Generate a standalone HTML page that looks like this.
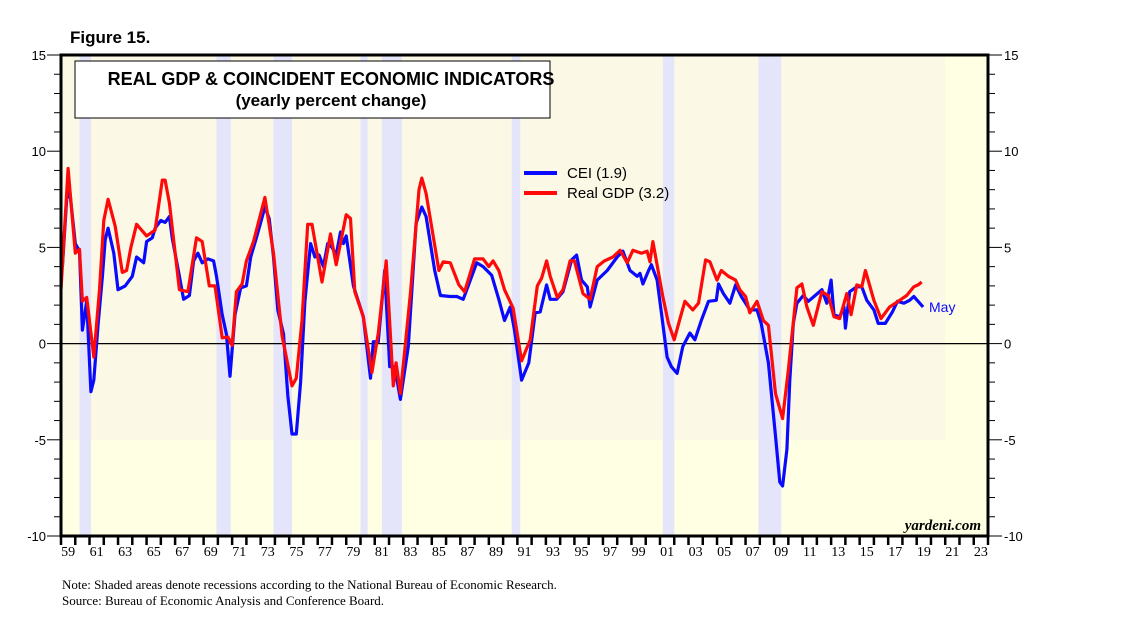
<!DOCTYPE html>
<html><head><meta charset="utf-8"><style>
body{margin:0;background:#fff;}
svg{display:block;font-family:"Liberation Sans",sans-serif;}
</style></head><body>
<svg id="chart" width="1138" height="635" viewBox="0 0 1138 635" xmlns="http://www.w3.org/2000/svg">
<text x="70" y="43" font-size="17" font-weight="bold">Figure 15.</text>
<g id="plot"></g>
<text x="62" y="589" font-family="Liberation Serif,serif" font-size="13">Note: Shaded areas denote recessions according to the National Bureau of Economic Research.</text>
<text x="62" y="605" font-family="Liberation Serif,serif" font-size="13">Source: Bureau of Economic Analysis and Conference Board.</text>
</svg>
<script>
const recessions=[[1960.3,1961.1],[1969.9,1970.9],[1973.9,1975.2],[1980.0,1980.5],[1981.5,1982.9],[1990.6,1991.2],[2001.2,2002.0],[2007.9,2009.5]];
const gdpYears=[1959,1959.5,1960,1960.3,1960.5,1960.8,1961.3,1961.7,1962,1962.3,1962.8,1963.3,1963.6,1963.9,1964.3,1965,1965.6,1966.1,1966.3,1966.6,1967.3,1967.9,1968.5,1968.9,1969.4,1969.8,1970.3,1970.7,1971,1971.3,1971.7,1972,1972.5,1973.3,1973.9,1974.5,1974.8,1975.2,1975.5,1975.9,1976.3,1976.6,1977.3,1977.9,1978.3,1979,1979.3,1979.6,1980.2,1980.8,1981.25,1981.8,1982.3,1982.5,1982.8,1983.5,1984.1,1984.3,1984.6,1985.5,1985.8,1986.3,1986.9,1987.3,1988,1988.6,1989,1989.3,1989.7,1990.1,1990.7,1991.3,1991.9,1992.4,1992.7,1993.05,1993.3,1993.8,1994.2,1994.7,1995,1995.6,1996.1,1996.6,1997.1,1997.7,1998.2,1998.7,1999.1,1999.7,2000.1,2000.3,2000.5,2000.9,2001.2,2001.6,2002,2002.4,2002.75,2003.3,2003.7,2004.2,2004.5,2005,2005.3,2005.8,2006.3,2006.6,2007,2007.3,2007.8,2008.25,2008.6,2009.1,2009.6,2010,2010.6,2010.95,2011.3,2011.75,2012.35,2012.8,2013.2,2013.6,2014.1,2014.4,2014.8,2015.15,2015.4,2016,2016.5,2017.1,2017.7,2018.3,2018.8,2019.1,2019.35];
const gdpValues=[2.8,9.1,4.7,4.9,2.2,2.4,-0.7,2.8,6.4,7.5,6.1,3.7,3.8,5.0,6.2,5.6,5.9,8.5,8.5,7.3,2.8,2.7,5.5,5.3,3.0,3.0,0.3,0.35,-0.1,2.7,3.1,4.3,5.3,7.6,4.7,0.4,-0.7,-2.2,-1.8,1.2,6.2,6.2,3.2,5.7,4.1,6.7,6.5,2.7,1.4,-1.5,0.55,4.3,-2.2,-1.0,-2.6,2.6,8.0,8.6,7.8,3.8,4.25,4.2,3.05,2.7,4.4,4.4,4.0,4.3,3.8,2.8,1.85,-0.9,0.2,3.0,3.4,4.3,3.5,2.4,2.8,4.3,4.3,2.6,2.3,4.0,4.3,4.5,4.85,4.2,4.85,4.7,4.8,4.25,5.3,3.65,2.45,1.05,0.2,1.3,2.2,1.75,2.1,4.35,4.25,3.3,3.8,3.5,3.3,2.8,2.45,1.6,2.2,1.2,0.95,-2.6,-3.9,-1.4,2.9,3.1,1.9,0.95,2.7,2.5,1.4,1.3,2.6,1.5,3.05,2.95,3.8,2.25,1.3,1.9,2.2,2.5,2.95,3.05,3.2];
const ceiYears=[1959.1,1959.4,1959.6,1960,1960.3,1960.5,1960.8,1961.1,1961.3,1961.6,1961.9,1962.1,1962.3,1962.7,1963,1963.5,1964,1964.3,1964.8,1965,1965.4,1965.6,1966,1966.3,1966.6,1966.8,1967.3,1967.6,1968,1968.3,1968.6,1968.9,1969.3,1969.7,1969.9,1970.3,1970.6,1970.85,1971.2,1971.6,1972,1972.3,1972.7,1973,1973.3,1973.6,1973.9,1974.2,1974.6,1974.9,1975.2,1975.5,1975.8,1976.1,1976.5,1976.8,1977.1,1977.4,1977.7,1978,1978.3,1978.6,1978.8,1979,1979.5,1980.2,1980.7,1980.9,1981.25,1981.7,1982.05,1982.4,1982.8,1983.35,1983.9,1984.3,1984.6,1985.2,1985.6,1986.3,1986.75,1987.2,1987.6,1988.15,1988.6,1989.2,1989.7,1990.1,1990.5,1990.8,1991.3,1991.8,1992.25,1992.6,1993.05,1993.3,1993.75,1994.2,1994.8,1995.15,1995.5,1995.9,1996.1,1996.6,1997.3,1998,1998.4,1998.9,1999.4,1999.6,1999.8,2000.2,2000.4,2000.8,2001.1,2001.5,2001.8,2002.2,2002.6,2003.1,2003.45,2003.9,2004.4,2004.95,2005.1,2005.45,2005.9,2006.3,2006.7,2007.3,2007.8,2008.1,2008.6,2009.1,2009.4,2009.6,2009.9,2010.1,2010.35,2010.6,2011.05,2011.4,2011.8,2012.35,2012.7,2013,2013.2,2013.6,2013.9,2014.0,2014.3,2014.8,2015.15,2015.5,2016,2016.3,2016.8,2017.3,2017.65,2018.1,2018.5,2018.8,2019.1,2019.45];
const ceiValues=[4.0,7.5,8.0,5.2,4.8,0.7,2.2,-2.5,-1.9,1.0,3.5,5.4,6.0,4.7,2.8,3.0,3.5,4.5,4.2,5.3,5.5,6.0,6.4,6.3,6.6,5.5,3.5,2.3,2.5,4.3,4.7,4.2,4.4,4.3,3.5,1.5,0.5,-1.7,1.5,2.9,3.0,4.5,5.5,6.3,7.1,6.5,4.5,1.75,0.5,-2.7,-4.7,-4.7,-2.0,2.2,5.2,4.5,4.6,4.0,5.2,5.0,4.6,5.8,5.2,5.6,3.0,1.4,-1.8,0.1,0.1,3.8,-1.2,-1.2,-2.9,-0.15,6.25,7.1,6.6,3.8,2.5,2.45,2.45,2.3,3.1,4.2,4.0,3.55,2.3,1.2,1.9,0.7,-1.9,-1.0,1.6,1.65,3.05,2.3,2.3,2.7,4.35,4.6,3.3,2.95,1.9,3.3,3.8,4.5,4.8,3.8,3.5,3.65,3.1,3.8,4.1,3.3,1.6,-0.7,-1.2,-1.55,-0.15,0.55,0.2,1.2,2.2,2.25,3.1,2.6,2.1,3.05,2.45,1.75,1.75,1.05,-1.0,-4.8,-7.2,-7.4,-5.5,-1.9,1.05,2.1,2.5,2.2,2.45,2.8,2.1,3.3,1.5,1.4,1.9,0.8,2.7,2.95,2.95,2.25,1.75,1.05,1.05,1.65,2.2,2.1,2.25,2.45,2.2,1.9];
const yTicks=[15,10,5,0,-5,-10];
const xLabels=["59","61","63","65","67","69","71","73","75","77","79","81","83","85","87","89","91","93","95","97","99","01","03","05","07","09","11","13","15","17","19","21","23"];

const NS="http://www.w3.org/2000/svg";
const L=61,R=988,T=55,B=536,Y0=1959,Y1=2024,VMIN=-10,VMAX=15;
const xs=t=>L+(t-Y0)/(Y1-Y0)*(R-L);
const ys=v=>B-(v-VMIN)/(VMAX-VMIN)*(B-T);
const g=document.getElementById('plot');
function mk(tag,attrs,parent){const e=document.createElementNS(NS,tag);for(const k in attrs)e.setAttribute(k,attrs[k]);(parent||g).appendChild(e);return e;}

let e=mk('rect',{x:L,y:T,width:R-L,height:B-T,fill:'#ffffe3'});


e=mk('rect',{x:L,y:T,width:xs(2021)-L,height:ys(-5)-T,fill:'#fbf9e6'});


recessions.forEach(r=>{
  const el=mk('rect',{x:xs(r[0]),y:T,width:xs(r[1])-xs(r[0]),height:B-T,fill:'#e4e4fa'});
  
  
});
e=mk('line',{x1:L,x2:R,y1:ys(0),y2:ys(0),stroke:'#000','stroke-width':1.2});



// y ticks
for(let v=VMIN;v<=VMAX;v++){
  const len=(v%5===0)?14:7;
  mk('line',{x1:L-len,x2:L,y1:ys(v),y2:ys(v),stroke:'#000','stroke-width':1});
  mk('line',{x1:R,x2:R+len,y1:ys(v),y2:ys(v),stroke:'#000','stroke-width':1});
}
yTicks.forEach(v=>{
  const a=mk('text',{x:46,y:ys(v)+5,'font-size':13,'text-anchor':'end'});a.textContent=v;
  
  
  const b=mk('text',{x:1004,y:ys(v)+5,'font-size':13});b.textContent=v;
  
  
});
// x ticks
for(let y=Y0;y<=Y1;y++){mk('line',{x1:xs(y),x2:xs(y),y1:B,y2:B+9,stroke:'#000','stroke-width':2.5});}
xLabels.forEach((lab,i)=>{
  const t=mk('text',{x:xs(Y0+2*i+0.5),y:556,'font-size':14,'text-anchor':'middle','font-family':'Liberation Serif,serif'});t.textContent=lab;
  
  
});

function path(xa,va,color,name){
  let d='';xa.forEach((t,i)=>{d+=(i?'L':'M')+xs(t).toFixed(1)+','+ys(va[i]).toFixed(1);});
  const p=mk('path',{d:d,fill:'none',stroke:color,'stroke-width':3.2,'stroke-linejoin':'round'});
  
  
}
path(ceiYears,ceiValues,'#0a0aff','cei-line');
path(gdpYears,gdpValues,'#ff0a0a','real-gdp-line');

e=mk('rect',{x:L,y:T,width:R-L,height:B-T,fill:'none',stroke:'#000','stroke-width':3});



// title box
const tb=mk('g',{});


mk('rect',{x:75,y:61,width:475,height:57,fill:'#fff',stroke:'#000','stroke-width':1},tb);
let t=mk('text',{x:331,y:85,'font-size':18,'font-weight':'bold','text-anchor':'middle'},tb);t.textContent='REAL GDP & COINCIDENT ECONOMIC INDICATORS';


t=mk('text',{x:331,y:106,'font-size':17,'font-weight':'bold','text-anchor':'middle'},tb);t.textContent='(yearly percent change)';



// legend
const lg=mk('g',{});


mk('line',{x1:524,x2:557,y1:173,y2:173,stroke:'#0a0aff','stroke-width':4},lg);
t=mk('text',{x:567,y:178,'font-size':15},lg);t.textContent='CEI (1.9)';


mk('line',{x1:524,x2:557,y1:193,y2:193,stroke:'#ff0a0a','stroke-width':4},lg);
t=mk('text',{x:567,y:198,'font-size':15},lg);t.textContent='Real GDP (3.2)';



t=mk('text',{x:929,y:312,'font-size':14,fill:'#0a0aff'});t.textContent='May';


t=mk('text',{x:981,y:530,'font-size':15,'font-style':'italic','font-weight':'bold','text-anchor':'end','font-family':'Liberation Serif,serif'});t.textContent='yardeni.com';


</script>
</body></html>
